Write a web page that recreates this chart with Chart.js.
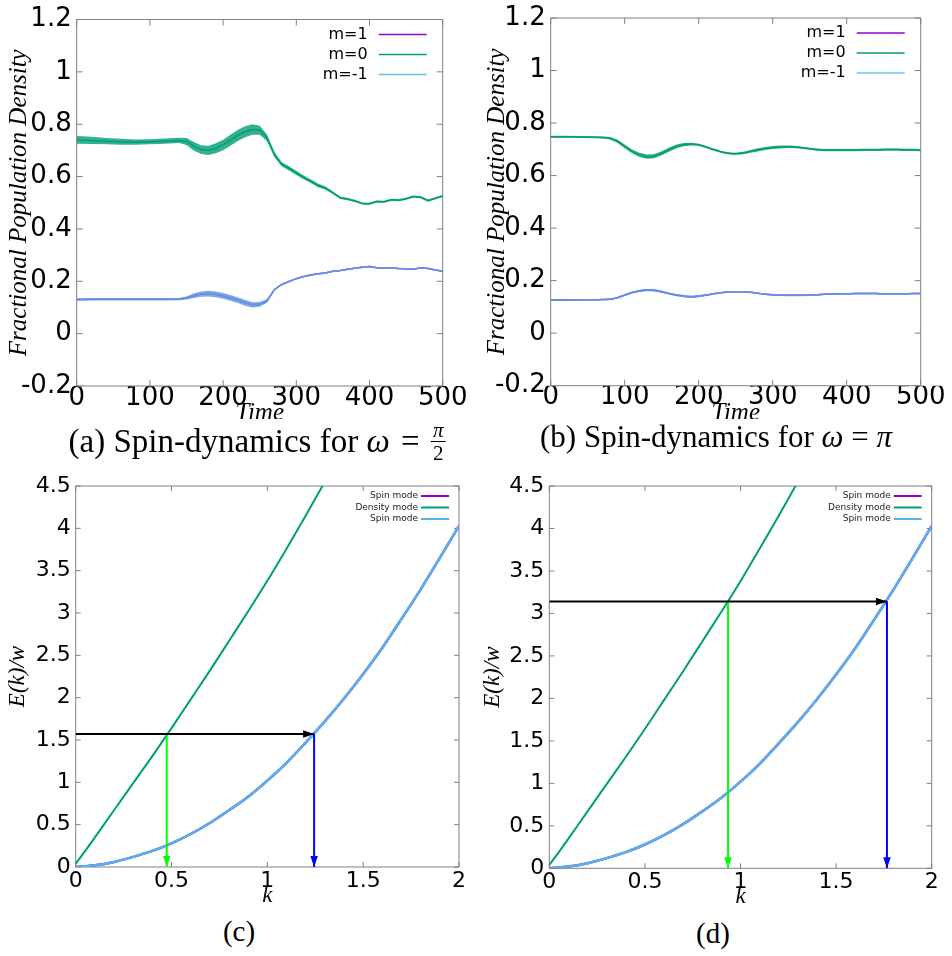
<!DOCTYPE html>
<html>
<head>
<meta charset="utf-8">
<script src="https://cdn.jsdelivr.net/npm/chart.js"></script>
<style>
  body { margin: 0; background: #fff; width: 952px; height: 956px; position: relative; overflow: hidden; }
  canvas { position: absolute; }
  .cap { position: absolute; font-family: "Liberation Serif", serif; font-size: 29px; line-height: 29px;
         color: #000; white-space: nowrap; transform: translateX(-50%); }
  .big { font-size: 33px; line-height: 33px; }
  .mid { font-size: 31px; line-height: 31px; }
  .eq { padding: 0 3px; }
  .frac { display: inline-block; vertical-align: -0.4em; text-align: center; font-size: 21px; line-height: 22px; }
  .frac span { display: block; }
  .frac .num { border-bottom: 1px solid #000; padding: 0 2px; }
</style>
</head>
<body>
<canvas id="chartA" width="476" height="419" style="left:0;top:0"></canvas>
<canvas id="chartB" width="476" height="419" style="left:476px;top:0"></canvas>
<canvas id="chartC" width="476" height="440" style="left:0;top:470px"></canvas>
<canvas id="chartD" width="476" height="440" style="left:476px;top:470px"></canvas>
<div class="cap big" style="left:257px;top:419px">(a) Spin-dynamics for <i>ω</i> <span class="eq">=</span> <span class="frac"><span class="num"><i>π</i></span><span>2</span></span></div>
<div class="cap mid" style="left:716px;top:421px">(b) Spin-dynamics for <i>ω</i> = <i>π</i></div>
<div class="cap" style="left:239px;top:917px">(c)</div>
<div class="cap" style="left:713px;top:919px">(d)</div>
<script>
// (a) omega = pi/2 : time and populations (centre of the band, half width of the fast oscillation)
const timeA = [0,20,40,60,80,100,120,140,150,160,170,180,190,200,210,220,230,240,250,260,270,280,290,300,310,320,330,340,350,360,370,380,390,400,410,420,430,440,450,460,470,480,490,500];
const m1A = [0.130,0.131,0.131,0.131,0.131,0.131,0.131,0.132,0.136,0.145,0.151,0.153,0.150,0.144,0.137,0.128,0.118,0.110,0.112,0.125,0.168,0.188,0.199,0.210,0.218,0.224,0.229,0.232,0.238,0.241,0.246,0.250,0.254,0.256,0.252,0.250,0.251,0.249,0.248,0.246,0.252,0.249,0.243,0.238];
const m0A = [0.740,0.738,0.735,0.733,0.732,0.733,0.735,0.738,0.734,0.716,0.703,0.700,0.708,0.721,0.739,0.757,0.771,0.780,0.777,0.748,0.685,0.647,0.631,0.614,0.597,0.582,0.566,0.556,0.538,0.519,0.514,0.507,0.497,0.496,0.505,0.504,0.511,0.510,0.515,0.524,0.521,0.508,0.517,0.526];
const mm1A = [0.130,0.131,0.131,0.131,0.131,0.131,0.131,0.132,0.136,0.145,0.151,0.153,0.150,0.144,0.137,0.128,0.118,0.110,0.112,0.125,0.168,0.188,0.199,0.210,0.218,0.224,0.229,0.232,0.238,0.241,0.246,0.250,0.254,0.256,0.252,0.250,0.251,0.249,0.248,0.246,0.252,0.249,0.243,0.238];
const m0SpreadA = [0.015,0.014,0.012,0.011,0.010,0.010,0.010,0.010,0.013,0.016,0.017,0.018,0.019,0.020,0.021,0.021,0.021,0.020,0.017,0.013,0.010,0.008,0.008,0.008,0.007,0.007,0.007,0.006,0.005,0.005,0.004,0.004,0.004,0.004,0.004,0.004,0.004,0.004,0.004,0.004,0.004,0.004,0.004,0.004];
const mm1SpreadA = [0.004,0.004,0.004,0.004,0.004,0.004,0.004,0.004,0.006,0.009,0.010,0.011,0.011,0.011,0.011,0.011,0.011,0.010,0.009,0.007,0.003,0.003,0.003,0.003,0.003,0.003,0.003,0.003,0.003,0.003,0.003,0.003,0.003,0.003,0.003,0.003,0.003,0.003,0.003,0.003,0.003,0.003,0.003,0.003];

// (b) omega = pi
const timeB = [0,20,40,60,70,80,90,100,110,120,130,140,150,160,170,180,190,200,210,220,230,240,250,260,270,280,290,300,310,320,330,340,350,360,370,380,390,400,410,420,430,440,450,460,470,480,490,500];
const m1B = [0.126,0.126,0.127,0.127,0.128,0.129,0.135,0.145,0.155,0.161,0.164,0.163,0.158,0.151,0.145,0.141,0.139,0.141,0.145,0.150,0.154,0.157,0.158,0.158,0.156,0.152,0.148,0.146,0.145,0.144,0.144,0.144,0.145,0.146,0.148,0.149,0.150,0.150,0.151,0.151,0.151,0.151,0.150,0.150,0.150,0.150,0.151,0.151];
const m0B = [0.748,0.748,0.747,0.746,0.745,0.742,0.731,0.711,0.692,0.679,0.672,0.674,0.685,0.699,0.711,0.718,0.720,0.717,0.709,0.699,0.691,0.685,0.683,0.686,0.692,0.698,0.703,0.707,0.709,0.710,0.709,0.706,0.702,0.699,0.697,0.697,0.697,0.697,0.697,0.698,0.698,0.698,0.699,0.699,0.699,0.698,0.698,0.697];
const mm1B = [0.126,0.126,0.127,0.127,0.128,0.129,0.135,0.145,0.155,0.161,0.164,0.163,0.158,0.151,0.145,0.141,0.139,0.141,0.145,0.150,0.154,0.157,0.158,0.158,0.156,0.152,0.148,0.146,0.145,0.144,0.144,0.144,0.145,0.146,0.148,0.149,0.150,0.150,0.151,0.151,0.151,0.151,0.150,0.150,0.150,0.150,0.151,0.151];
const m0SpreadB = [0.004,0.004,0.004,0.004,0.004,0.005,0.006,0.007,0.007,0.008,0.008,0.008,0.008,0.008,0.007,0.006,0.005,0.004,0.004,0.004,0.004,0.004,0.004,0.005,0.005,0.006,0.006,0.006,0.006,0.005,0.005,0.004,0.004,0.004,0.004,0.004,0.004,0.004,0.004,0.004,0.004,0.004,0.004,0.004,0.004,0.004,0.004,0.004];
const mm1SpreadB = [0.003,0.003,0.003,0.003,0.003,0.003,0.003,0.004,0.004,0.004,0.004,0.004,0.004,0.004,0.004,0.004,0.004,0.004,0.003,0.003,0.003,0.003,0.003,0.003,0.003,0.003,0.003,0.003,0.003,0.003,0.003,0.003,0.003,0.003,0.003,0.003,0.003,0.003,0.003,0.003,0.003,0.003,0.003,0.003,0.003,0.003,0.003,0.003];

// (c), (d) dispersion E(k)/w
const kDensity = [0,0.05,0.1,0.2,0.3,0.4,0.5,0.6,0.7,0.8,0.9,1.0,1.1,1.2,1.3,1.4];
const eDensity = [0.04,0.19,0.35,0.67,0.99,1.31,1.64,1.98,2.32,2.67,3.02,3.38,3.76,4.15,4.55,4.96];
const kSpin = [0,0.1,0.2,0.3,0.4,0.5,0.6,0.7,0.8,0.9,1.0,1.1,1.2,1.3,1.4,1.5,1.6,1.7,1.8,1.9,2.0];
const eSpin = [0,0.02,0.06,0.12,0.19,0.28,0.39,0.52,0.67,0.83,1.02,1.23,1.47,1.72,1.99,2.28,2.59,2.93,3.28,3.65,4.03];
// arrows: drive level (w = pi/2, pi) and where it meets each branch
const levelE = [1.57, 3.14];
const kDensityHit = [0.475, 0.935];
const kSpinHit = [1.244, 1.766];

const PURPLE = '#9400d3', GREEN = '#009e73', BLUE = '#56b4e9';
const fmt = v => String(Math.round(v * 10) / 10);
const pts = (xs, ys, d, s) => xs.map((x, i) => ({ x: x, y: ys[i] + (d ? s * d[i] : 0) }));

function band(xs, ys, d, color, order) {
  return [
    { data: pts(xs, ys, d, 1), borderColor: 'rgba(0,0,0,0)', borderWidth: 0, backgroundColor: color, fill: '+1', order: order },
    { data: pts(xs, ys, d, -1), borderColor: 'rgba(0,0,0,0)', borderWidth: 0, fill: false, order: order }
  ];
}

// gnuplot-like frame with inward ticks on every side
const framePlugin = {
  id: 'frame',
  beforeDatasetsDraw(chart, args, o) {
    const { ctx, chartArea: a } = chart;
    const x = chart.scales.x, y = chart.scales.y;
    ctx.save();
    ctx.strokeStyle = '#808080';
    ctx.lineWidth = 1;
    ctx.beginPath();
    x.ticks.forEach(t => {
      const px = x.getPixelForValue(t.value);
      ctx.moveTo(px, a.bottom); ctx.lineTo(px, a.bottom - o.tick);
      ctx.moveTo(px, a.top); ctx.lineTo(px, a.top + o.tick);
    });
    y.ticks.forEach(t => {
      const py = y.getPixelForValue(t.value);
      ctx.moveTo(a.left, py); ctx.lineTo(a.left + o.tick, py);
      ctx.moveTo(a.right, py); ctx.lineTo(a.right - o.tick, py);
    });
    ctx.rect(a.left, a.top, a.right - a.left, a.bottom - a.top);
    ctx.stroke();
    ctx.restore();
  }
};

// key in the top right corner: label first, then the line sample
const keyPlugin = {
  id: 'key',
  afterDraw(chart, args, o) {
    const { ctx, chartArea: a } = chart;
    ctx.save();
    ctx.font = o.font;
    ctx.textAlign = 'right';
    ctx.textBaseline = 'middle';
    let row = 0;
    chart.data.datasets.forEach(ds => {
      if (!ds.key) return;
      const yy = a.top + o.top + row * o.step;
      ctx.fillStyle = o.color;
      ctx.fillText(ds.label, a.right + o.textRight, yy);
      ctx.strokeStyle = ds.borderColor;
      ctx.lineWidth = o.lineWidth;
      ctx.beginPath();
      ctx.moveTo(a.right + o.lineFrom, yy);
      ctx.lineTo(a.right + o.lineTo, yy);
      ctx.stroke();
      row++;
    });
    ctx.restore();
  }
};

// filled heads at the end of the arrow datasets
const headPlugin = {
  id: 'heads',
  afterDatasetsDraw(chart) {
    const ctx = chart.ctx;
    chart.data.datasets.forEach((ds, i) => {
      if (!ds.head) return;
      const p = chart.getDatasetMeta(i).data;
      const a = p[p.length - 2], b = p[p.length - 1];
      const ang = Math.atan2(b.y - a.y, b.x - a.x);
      ctx.save();
      ctx.translate(b.x, b.y);
      ctx.rotate(ang);
      ctx.fillStyle = ds.borderColor;
      ctx.beginPath();
      ctx.moveTo(0, 0); ctx.lineTo(-11, -3.8); ctx.lineTo(-11, 3.8);
      ctx.closePath();
      ctx.fill();
      ctx.restore();
    });
  }
};

function makeChart(id, p) {
  return new Chart(document.getElementById(id), {
    type: 'line',
    data: { datasets: p.datasets },
    plugins: [framePlugin, keyPlugin, headPlugin],
    options: {
      responsive: false,
      animation: false,
      devicePixelRatio: 1,
      layout: { padding: { left: 0, top: p.top, right: p.right, bottom: 0 } },
      elements: { point: { radius: 0 }, line: { tension: 0 } },
      plugins: {
        legend: { display: false },
        tooltip: { enabled: false },
        frame: { tick: p.tick },
        key: p.key
      },
      scales: {
        x: {
          type: 'linear', min: p.x[0], max: p.x[1],
          afterFit: s => { s.height = p.xh; },
          grid: { display: false, drawTicks: false },
          border: { display: false },
          ticks: { stepSize: p.x[2], callback: fmt, color: '#000', padding: p.xpad, maxRotation: 0, autoSkip: false,
                   font: { family: 'DejaVu Sans', size: p.fs, lineHeight: 1 } },
          title: { display: true, text: p.xt, color: '#000', padding: { top: 0, bottom: p.xtp },
                   font: { family: 'Liberation Serif', style: 'italic', size: p.tfs, lineHeight: 1 } }
        },
        y: {
          min: p.y[0], max: p.y[1],
          afterFit: s => { s.width = p.yw; },
          grid: { display: false, drawTicks: false },
          border: { display: false },
          ticks: { stepSize: p.y[2], callback: fmt, color: '#000', padding: 5, autoSkip: false,
                   font: { family: 'DejaVu Sans', size: p.fs, lineHeight: 1 } },
          title: { display: true, text: p.yt, color: '#000', padding: { top: p.ytp, bottom: 0 },
                   font: { family: 'Liberation Serif', style: 'italic', size: p.tfs, lineHeight: 1 } }
        }
      }
    }
  });
}

function spinSets(t, m1, m0, mm1, s0, s1, mono) {
  const mode = mono ? 'monotone' : 'default';
  return [
    { label: 'm=1', key: true, data: pts(t, m1), borderColor: PURPLE, borderWidth: 1.5, order: 3, cubicInterpolationMode: mode },
    ...band(t, m0, s0, 'rgba(0,158,115,0.8)', 2),
    { label: 'm=0', key: true, data: pts(t, m0), borderColor: GREEN, borderWidth: 1.5, order: 2, cubicInterpolationMode: mode },
    ...band(t, mm1, s1, 'rgba(98,144,229,0.8)', 1),
    { label: 'm=-1', key: true, data: pts(t, mm1), borderColor: 'rgba(86,180,233,0.85)', borderWidth: 1.5, order: 1, cubicInterpolationMode: mode }
  ];
}

function dispersionSets(i) {
  const lvl = levelE[i];
  return [
    { label: 'Spin mode', key: true, data: pts(kSpin, eSpin), borderColor: PURPLE, borderWidth: 2.5, order: 3, cubicInterpolationMode: 'monotone' },
    { label: 'Density mode', key: true, data: pts(kDensity, eDensity), borderColor: GREEN, borderWidth: 2, order: 2, cubicInterpolationMode: 'monotone' },
    { label: 'Spin mode', key: true, data: pts(kSpin, eSpin), borderColor: BLUE, borderWidth: 2.5, order: 1, cubicInterpolationMode: 'monotone' },
    { head: true, data: [{ x: 0, y: lvl }, { x: kSpinHit[i], y: lvl }], borderColor: '#000', borderWidth: 2, order: 0 },
    { head: true, data: [{ x: kDensityHit[i], y: lvl }, { x: kDensityHit[i], y: 0 }], borderColor: '#00ff00', borderWidth: 2, order: 0 },
    { head: true, data: [{ x: kSpinHit[i], y: lvl }, { x: kSpinHit[i], y: 0 }], borderColor: '#0000ff', borderWidth: 2, order: 0 }
  ];
}

const keyTop = { font: '16px "DejaVu Sans"', color: '#000', top: 15, step: 20, textRight: -75, lineFrom: -64, lineTo: -16, lineWidth: 1.5 };
const keyBottom = { font: '9px "DejaVu Sans"', color: '#222', top: 10, step: 11.5, textRight: -41, lineFrom: -38, lineTo: -10, lineWidth: 2 };

makeChart('chartA', {
  datasets: spinSets(timeA, m1A, m0A, mm1A, m0SpreadA, mm1SpreadA, false),
  top: 19.5, right: 33.3, xh: 33, yw: 76.7, tick: 6, fs: 26, tfs: 25, xpad: -1,
  x: [0, 500, 100], y: [-0.2, 1.2, 0.2], xt: 'Time', yt: 'Fractional Population Density', xtp: -6.5, ytp: 6.5,
  key: keyTop
});

makeChart('chartB', {
  datasets: spinSets(timeB, m1B, m0B, mm1B, m0SpreadB, mm1SpreadB, true),
  top: 15.7, right: 31.3, xh: 33.3, yw: 74.7, tick: 6, fs: 26, tfs: 25, xpad: -1,
  x: [0, 500, 100], y: [-0.2, 1.2, 0.2], xt: 'Time', yt: 'Fractional Population Density', xtp: -6.5, ytp: 8.5,
  key: keyTop
});

makeChart('chartC', {
  datasets: dispersionSets(0),
  top: 15.7, right: 17, xh: 43, yw: 75.7, tick: 5, fs: 22, tfs: 23, xpad: 3,
  x: [0, 2, 0.5], y: [0, 4.5, 0.5], xt: 'k', yt: 'E(k)/w', xtp: 3, ytp: 6.5,
  key: keyBottom
});

makeChart('chartD', {
  datasets: dispersionSets(1),
  top: 15.7, right: 20.3, xh: 41.7, yw: 73.3, tick: 5, fs: 22, tfs: 23, xpad: 3,
  x: [0, 2, 0.5], y: [0, 4.5, 0.5], xt: 'k', yt: 'E(k)/w', xtp: 1.5, ytp: 5.5,
  key: keyBottom
});
</script>
</body>
</html>
